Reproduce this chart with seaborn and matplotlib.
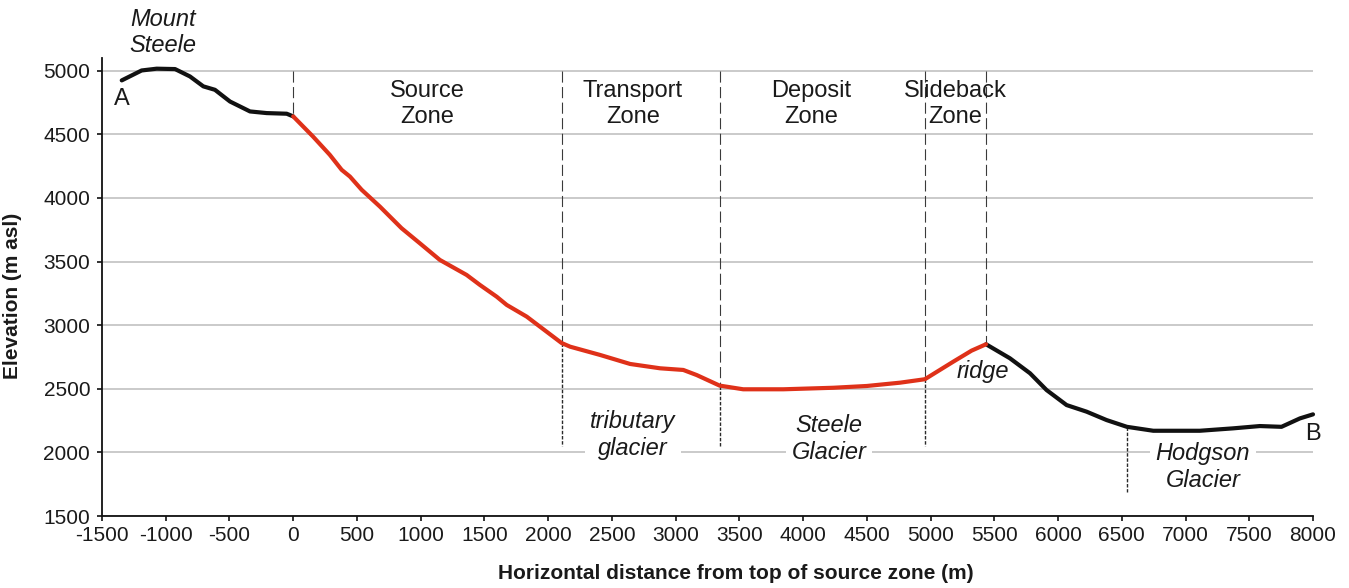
import numpy as np
import pandas as pd
import matplotlib
matplotlib.use("Agg")
import matplotlib.pyplot as plt
import seaborn as sns

# ── Data ─────────────────────────────────────────────────────────────────────
# profile west of the source zone (black)
west_x = [-1345, -1189, -1071, -927, -810, -705, -614, -496, -339, -208, -51, 0]
west_z = [4924, 5002, 5016, 5013, 4955, 4877, 4850, 4758, 4680, 4667, 4662, 4641]

# avalanche path: source -> slideback (red)
path_x = [0, 155, 287, 380, 445, 537, 680, 758, 850, 993, 1150, 1360, 1465,
          1596, 1675, 1832, 1936, 2105, 2172, 2407, 2643, 2878, 3060, 3165,
          3345, 3530, 3845, 4237, 4500, 4761, 4955, 5178, 5322, 5435]
path_z = [4641, 4483, 4339, 4221, 4168, 4064, 3932, 3854, 3762, 3644, 3513,
          3395, 3316, 3224, 3159, 3067, 2988, 2860, 2831, 2766, 2695, 2661,
          2648, 2608, 2525, 2496, 2496, 2508, 2522, 2548, 2575, 2713, 2800, 2850]

# beyond the ridge down to Hodgson Glacier (black)
east_x = [5435, 5622, 5780, 5910, 6067, 6224, 6381, 6540, 6747, 7112, 7374,
          7583, 7753, 7897, 8000]
east_z = [2850, 2740, 2622, 2490, 2372, 2320, 2254, 2201, 2170, 2170, 2189,
          2207, 2201, 2267, 2299]

# zone boundaries (dashed above profile)
bound_x = [0, 2105, 3345, 4955, 5435]
bound_z = [4641, 2860, 2525, 2575, 2850]

# glacier markers (dotted below profile)
glac_x = [2105, 3345, 4955, 6540]
glac_top = [2860, 2525, 2575, 2201]
glac_bot = [2050, 2040, 2050, 1690]

zone_labels = ["Source\nZone", "Transport\nZone", "Deposit\nZone", "Slideback\nZone"]
zone_label_x = [1050, 2666, 4062, 5192]

glacier_labels = ["tributary\nglacier", "Steele\nGlacier", "Hodgson\nGlacier"]
glacier_label_x = [2666, 4203, 7137]
glacier_label_z = [2137, 2106, 1885]

x_ticks = list(range(-1500, 8001, 500))
y_ticks = list(range(1500, 5001, 500))

# ── Style ─────────────────────────────────────────────────────────────────────
sns.set_theme(style="ticks")
plt.rcParams["font.family"] = ["Liberation Sans", "DejaVu Sans"]
BLACK = "#111111"
RED = "#df3119"
GRID = "#c6c6c6"
TXT = "#1a1a1a"

fig = plt.figure(figsize=(13.49, 5.88), dpi=100)
ax = fig.add_axes([102 / 1349, 1 - 516 / 588, 1211 / 1349, 458 / 588])

# profile
segs = pd.concat([
    pd.DataFrame({"x": west_x, "z": west_z, "part": "west"}),
    pd.DataFrame({"x": path_x, "z": path_z, "part": "path"}),
    pd.DataFrame({"x": east_x, "z": east_z, "part": "east"}),
])
for part, col in [("west", BLACK), ("east", BLACK), ("path", RED)]:
    sns.lineplot(data=segs[segs["part"] == part], x="x", y="z", ax=ax,
                 color=col, lw=3.0, sort=False, estimator=None,
                 solid_capstyle="round", solid_joinstyle="round",
                 clip_on=False, zorder=4)

# zone boundaries
for bx, bz in zip(bound_x, bound_z):
    ax.plot([bx, bx], [5000, bz], color="#3a3a3a", lw=0.8,
            dashes=(10, 4), zorder=3)
for gx, gt, gb in zip(glac_x, glac_top, glac_bot):
    ax.plot([gx, gx], [gt, gb], color="#2a2a2a", lw=1.0,
            dashes=(2.5, 1.2), zorder=3)

# labels
for lab, lx in zip(zone_labels, zone_label_x):
    ax.text(lx, 4737, lab, ha="center", va="center", fontsize=17,
            color=TXT, linespacing=1.2, zorder=5)
for lab, lx, lz in zip(glacier_labels, glacier_label_x, glacier_label_z):
    ax.text(lx, lz, lab, ha="center", va="center", fontsize=17,
            style="italic", color=TXT, linespacing=1.2, zorder=5,
            bbox=dict(facecolor="white", edgecolor="none", pad=4))
ax.text(5411, 2633, "ridge", ha="center", va="center", fontsize=17,
        style="italic", color=TXT, zorder=5)
ax.text(-1021, 5299, "Mount\nSteele", ha="center", va="center", fontsize=17,
        style="italic", color=TXT, linespacing=1.2)
ax.text(-1343, 4780, "A", ha="center", va="center", fontsize=17, color=TXT)
ax.text(8000, 2145, "B", ha="center", va="center", fontsize=17, color=TXT,
        zorder=5)

# axes
ax.set_xlim(-1500, 8000)
ax.set_ylim(1500, 5100)
ax.set_xticks(x_ticks)
ax.set_yticks(y_ticks)
ax.set_xticklabels([str(t) for t in x_ticks])
ax.yaxis.grid(True, color=GRID, lw=1.3)
ax.set_axisbelow(True)
sns.despine(ax=ax)
for s in ["left", "bottom"]:
    ax.spines[s].set_color(BLACK)
    ax.spines[s].set_linewidth(1.3)
ax.tick_params(axis="both", labelsize=15, colors=BLACK, length=3.5, width=1.2,
               labelcolor=TXT)
ax.tick_params(axis="x", pad=4)
ax.tick_params(axis="y", pad=5)

ax.set_xlabel("Horizontal distance from top of source zone (m)", fontsize=15,
              fontweight="bold", color=TXT)
ax.set_ylabel("Elevation (m asl)", fontsize=15, fontweight="bold", color=TXT)
ax.xaxis.set_label_coords(0.5235, -0.105)
ax.yaxis.set_label_coords(-0.066, 0.48)

fig.savefig("out.png", dpi=100)
